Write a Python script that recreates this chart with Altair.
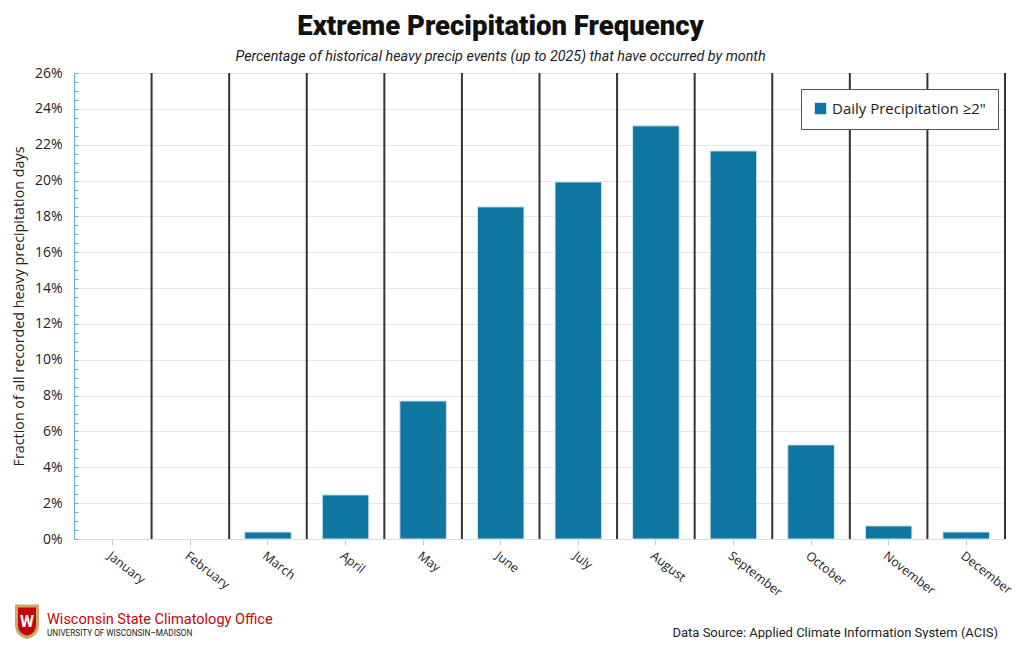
import altair as alt
import pandas as pd

months = ["January", "February", "March", "April", "May", "June", "July",
          "August", "September", "October", "November", "December"]
pct = [0.0, 0.0, 0.39, 2.46, 7.7, 18.53, 19.92, 23.05, 21.65, 5.25, 0.73, 0.39]
series_name = "Daily Precipitation \u22652\""
y_major = [i / 100 for i in range(0, 27, 2)]
y_minor = [i / 1000 for i in range(0, 261, 5)]

df = pd.DataFrame({"Month": months, "value": [p / 100 for p in pct], "series": series_name})

W, H = 931, 466
STEP = W / 12
FONT = "Open Sans"

xs = alt.Scale(domain=months, paddingInner=0.4, paddingOuter=0.2)
ys = alt.Scale(domain=[0, 0.26], nice=False)

x_axis = alt.Axis(title=None, labelAngle=38, labelAlign="left", labelBaseline="top",
                  labelFontSize=12.5, labelFont=FONT, labelColor="#222", labelPadding=4,
                  domainColor="#dddddd", tickColor="#cccccc", tickSize=6, grid=False)

bars = alt.Chart(df).transform_filter("datum.value > 0").mark_bar(
    stroke="#cfe4ef", strokeWidth=1).encode(
    x=alt.X("Month:N", scale=xs, sort=months, axis=x_axis),
    y=alt.Y("value:Q", scale=ys, axis=alt.Axis(
        values=y_major, format=".0%", title="Fraction of all recorded heavy precipitation days",
        titleFont=FONT, titleFontSize=14.3, titleFontWeight="normal", titleColor="#222",
        titlePadding=8, labelFont=FONT, labelFontSize=14, labelColor="#222",
        labelPadding=12, ticks=False, domain=True, domainColor="#6aaed3",
        gridColor="#e6e6e6", grid=True, orient="left")),
    color=alt.Color("series:N", scale=alt.Scale(range=["#0e76a0"]), legend=alt.Legend(
        title=None, orient="none", legendX=727, legendY=16, fillColor="white",
        strokeColor="#555555", padding=12, symbolType="square", symbolSize=130,
        symbolStrokeWidth=0, labelFontSize=15, labelFont=FONT, labelColor="#222")),
)

minor = alt.Chart(pd.DataFrame({"v": y_minor})).mark_point(opacity=0).encode(
    y=alt.Y("v:Q", scale=ys, axis=alt.Axis(
        values=y_minor, labels=False, title=None, grid=False, domain=False,
        ticks=True, tickColor="#6aaed3", tickSize=4, offset=-4, orient="left")),
)

rules = alt.Chart(df).mark_rule(color="#333333", strokeWidth=2, xOffset=STEP / 2).encode(
    x=alt.X("Month:N", scale=xs, sort=months),
)

def note(text, x, y, size, color, align="left", weight="normal", font="Roboto"):
    return alt.Chart(pd.DataFrame({"t": [text]})).mark_text(
        align=align, baseline="alphabetic", fontSize=size, color=color,
        fontWeight=weight, font=font).encode(
        x=alt.value(x), y=alt.value(y), text="t:N")

src = note("Data Source: Applied Climate Information System (ACIS)", 924, 564, 13, "#222", align="right")
wsco = note("Wisconsin State Climatology Office", -27, 551, 14.5, "#c5050c")
uw = note("UNIVERSITY OF WISCONSIN\u2013MADISON", -27, 563, 8.2, "#222")

crest = alt.Chart(pd.DataFrame({"t": ["W"]})).mark_point(
    shape="M-0.7,-1 L0.7,-1 L0.7,0.3 Q0.7,0.9 0,1.1 Q-0.7,0.9 -0.7,0.3 Z",
    filled=True, fill="#c5050c", stroke="#c9a86a", strokeWidth=3, size=900, opacity=1).encode(
    x=alt.value(-47), y=alt.value(548))
crest_w = alt.Chart(pd.DataFrame({"t": ["W"]})).mark_text(
    fontSize=16, fontWeight="bold", color="white", font="Roboto").encode(
    x=alt.value(-47), y=alt.value(549), text="t:N")

chart = alt.layer(bars, minor, rules, src, wsco, uw, crest, crest_w).resolve_axis(
    y="independent").properties(
    width=W, height=H,
    autosize=alt.AutoSizeParams(type="none"),
    padding={"left": 66, "top": 65, "right": 10, "bottom": 100},
    title=alt.TitleParams(
        text="Extreme Precipitation Frequency",
        subtitle="Percentage of historical heavy precip events (up to 2025) that have occurred by month",
        font="Roboto", fontSize=27.5, fontWeight=900, color="#111",
        subtitleFont="Roboto", subtitleFontSize=14.3, subtitleFontStyle="italic",
        subtitleColor="#222", subtitlePadding=9, anchor="middle", dx=-39, offset=2),
).configure_view(stroke=None)

chart.save("out.html", embed_options={"renderer": "svg", "actions": False})
